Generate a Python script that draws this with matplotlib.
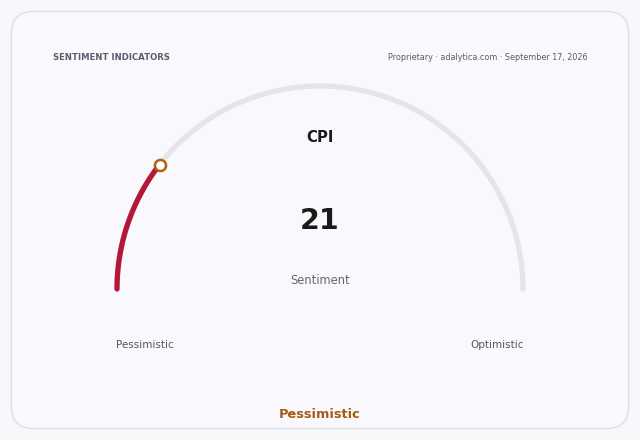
import numpy as np
import matplotlib
matplotlib.use("Agg")
from matplotlib import pyplot as plt
from matplotlib.patches import FancyBboxPatch

title = "SENTIMENT INDICATORS"
source = "Proprietary · adalytica.com · September 17, 2026"
indicator = "CPI"
value = 21
vmin, vmax = 0, 100
low_label = "Pessimistic"
high_label = "Optimistic"
state_label = "Pessimistic"
sub_label = "Sentiment"

fig = plt.figure(figsize=(6.4, 4.4), dpi=100)
fig.patch.set_facecolor("#f6f6fb")
ax = fig.add_axes([0, 0, 1, 1])
ax.set_xlim(0, 640)
ax.set_ylim(440, 0)
ax.axis("off")

# card
card = FancyBboxPatch((11.5, 11.5), 617, 417, boxstyle="round,pad=0,rounding_size=22",
                      facecolor="#f9f9fd", edgecolor="#dcdce6", linewidth=1.0)
ax.add_patch(card)

ax.text(53, 57, title, fontsize=6.1, fontweight="bold", color="#5b5b6e", va="center", ha="left")
ax.text(587, 57, source, fontsize=5.75, color="#5b5b6e", va="center", ha="right")

# gauge
cx, cy, r = 320, 289, 203
t = np.linspace(np.pi, 0, 300)
ax.plot(cx + r * np.cos(t), cy - r * np.sin(t), color="#e4e4ea", lw=3.8, solid_capstyle="round")

frac = (value - vmin) / (vmax - vmin)
ang = np.pi - frac * np.pi
tv = np.linspace(np.pi, ang, 100)
ax.plot(cx + r * np.cos(tv), cy - r * np.sin(tv), color="#b3183a", lw=3.8, solid_capstyle="round")
ax.plot(cx + r * np.cos(ang), cy - r * np.sin(ang), "o", ms=8, mfc="white", mec="#b0600f", mew=1.8)

ax.text(cx, 137, indicator, fontsize=10.7, fontweight="bold", color="#1a1a1a", ha="center", va="center")
ax.text(cx, 221, str(value), fontsize=20.5, fontweight="bold", color="#1a1a1a", ha="center", va="center")
ax.text(cx, 281, sub_label, fontsize=8.3, color="#666670", ha="center", va="center")
ax.text(145, 345, low_label, fontsize=7.5, color="#55555f", ha="center", va="center")
ax.text(497, 345, high_label, fontsize=7.5, color="#55555f", ha="center", va="center")
ax.text(cx, 414, state_label, fontsize=9.4, fontweight="bold", color="#a65a14", ha="center", va="center")

plt.savefig("out.png", dpi=100, facecolor=fig.get_facecolor())
